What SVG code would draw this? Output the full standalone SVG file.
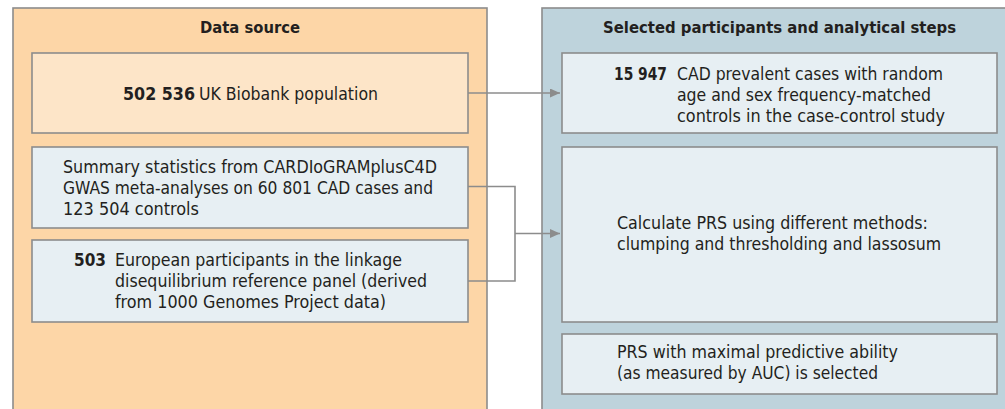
<svg xmlns="http://www.w3.org/2000/svg" width="1005" height="409" viewBox="0 0 1005 409">
  <style>
    .panel-src { fill: #fdd6a7; stroke: #8c8c8c; stroke-width: 1.6; }
    .panel-sel { fill: #bed3dc; stroke: #8c8c8c; stroke-width: 1.6; }
    .box-warm { fill: #fde5c8; stroke: #8c8c8c; stroke-width: 1.6; }
    .box-cool { fill: #e7eff3; stroke: #8c8c8c; stroke-width: 1.6; }
    .title { font-family: "DejaVu Sans Condensed", "DejaVu Sans", sans-serif; font-size: 16.5px; font-weight: bold; fill: #231f20; }
    .txt { font-family: "DejaVu Sans Condensed", "DejaVu Sans", sans-serif; font-size: 18.5px; fill: #231f20; }
    .num { font-weight: bold; }
    .conn { fill: none; stroke: #8c8c8c; stroke-width: 1.6; }
  </style>
  <defs>
    <marker id="arrow" markerUnits="userSpaceOnUse" markerWidth="10" markerHeight="9" refX="10" refY="4.5" orient="auto">
      <path d="M0,0 L10,4.5 L0,9 z" fill="#8c8c8c"/>
    </marker>
  </defs>

  <rect width="1005" height="409" fill="#ffffff"/>

  <!-- Left column: data sources -->
  <g id="panel-data-source">
    <rect class="panel-src" x="13" y="8" width="474" height="420"/>
    <text class="title" x="250" y="33" text-anchor="middle" textLength="100" lengthAdjust="spacingAndGlyphs">Data source</text>
  </g>

  <!-- Right column: selected participants and analysis -->
  <g id="panel-selected">
    <rect class="panel-sel" x="542" y="8" width="480" height="420"/>
    <text class="title" x="779.5" y="33" text-anchor="middle" textLength="353" lengthAdjust="spacingAndGlyphs">Selected participants and analytical steps</text>
  </g>

  <g id="node-ukb">
    <rect class="box-warm" x="32" y="53" width="436" height="80"/>
    <text class="txt num" x="123" y="100" textLength="72" lengthAdjust="spacingAndGlyphs">502 536</text>
    <text class="txt" x="199" y="100" textLength="179" lengthAdjust="spacingAndGlyphs">UK Biobank population</text>
  </g>

  <g id="node-gwas">
    <rect class="box-cool" x="32" y="147" width="436" height="81"/>
    <text class="txt" x="63" y="173" textLength="374" lengthAdjust="spacingAndGlyphs">Summary statistics from CARDIoGRAMplusC4D</text>
    <text class="txt" x="63" y="194" textLength="370" lengthAdjust="spacingAndGlyphs">GWAS meta-analyses on 60 801 CAD cases and</text>
    <text class="txt" x="63" y="215" textLength="136" lengthAdjust="spacingAndGlyphs">123 504 controls</text>
  </g>

  <g id="node-ld-panel">
    <rect class="box-cool" x="32" y="240" width="436" height="82"/>
    <text class="txt num" x="74" y="266" textLength="32" lengthAdjust="spacingAndGlyphs">503</text>
    <text class="txt" x="115" y="266" textLength="287" lengthAdjust="spacingAndGlyphs">European participants in the linkage</text>
    <text class="txt" x="115" y="287" textLength="312" lengthAdjust="spacingAndGlyphs">disequilibrium reference panel (derived</text>
    <text class="txt" x="115" y="308" textLength="271" lengthAdjust="spacingAndGlyphs">from 1000 Genomes Project data)</text>
  </g>

  <g id="node-cases">
    <rect class="box-cool" x="562" y="53" width="435" height="80"/>
    <text class="txt num" x="614" y="80" textLength="53" lengthAdjust="spacingAndGlyphs">15 947</text>
    <text class="txt" x="677" y="80" textLength="266" lengthAdjust="spacingAndGlyphs">CAD prevalent cases with random</text>
    <text class="txt" x="677" y="101" textLength="254" lengthAdjust="spacingAndGlyphs">age and sex frequency-matched</text>
    <text class="txt" x="677" y="122" textLength="268" lengthAdjust="spacingAndGlyphs">controls in the case-control study</text>
  </g>

  <g id="node-calc-prs">
    <rect class="box-cool" x="562" y="147" width="435" height="175"/>
    <text class="txt" x="617" y="229" textLength="311" lengthAdjust="spacingAndGlyphs">Calculate PRS using different methods:</text>
    <text class="txt" x="617" y="250" textLength="324" lengthAdjust="spacingAndGlyphs">clumping and thresholding and lassosum</text>
  </g>

  <g id="node-select">
    <rect class="box-cool" x="562" y="334" width="435" height="60"/>
    <text class="txt" x="617" y="358" textLength="281" lengthAdjust="spacingAndGlyphs">PRS with maximal predictive ability</text>
    <text class="txt" x="617" y="379" textLength="261" lengthAdjust="spacingAndGlyphs">(as measured by AUC) is selected</text>
  </g>

  <g id="connectors">
    <path class="conn" d="M468 93 H560" marker-end="url(#arrow)"/>
    <path class="conn" d="M468 186.5 H515 V281 H468"/>
    <path class="conn" d="M515 233.5 H560" marker-end="url(#arrow)"/>
  </g>
</svg>
